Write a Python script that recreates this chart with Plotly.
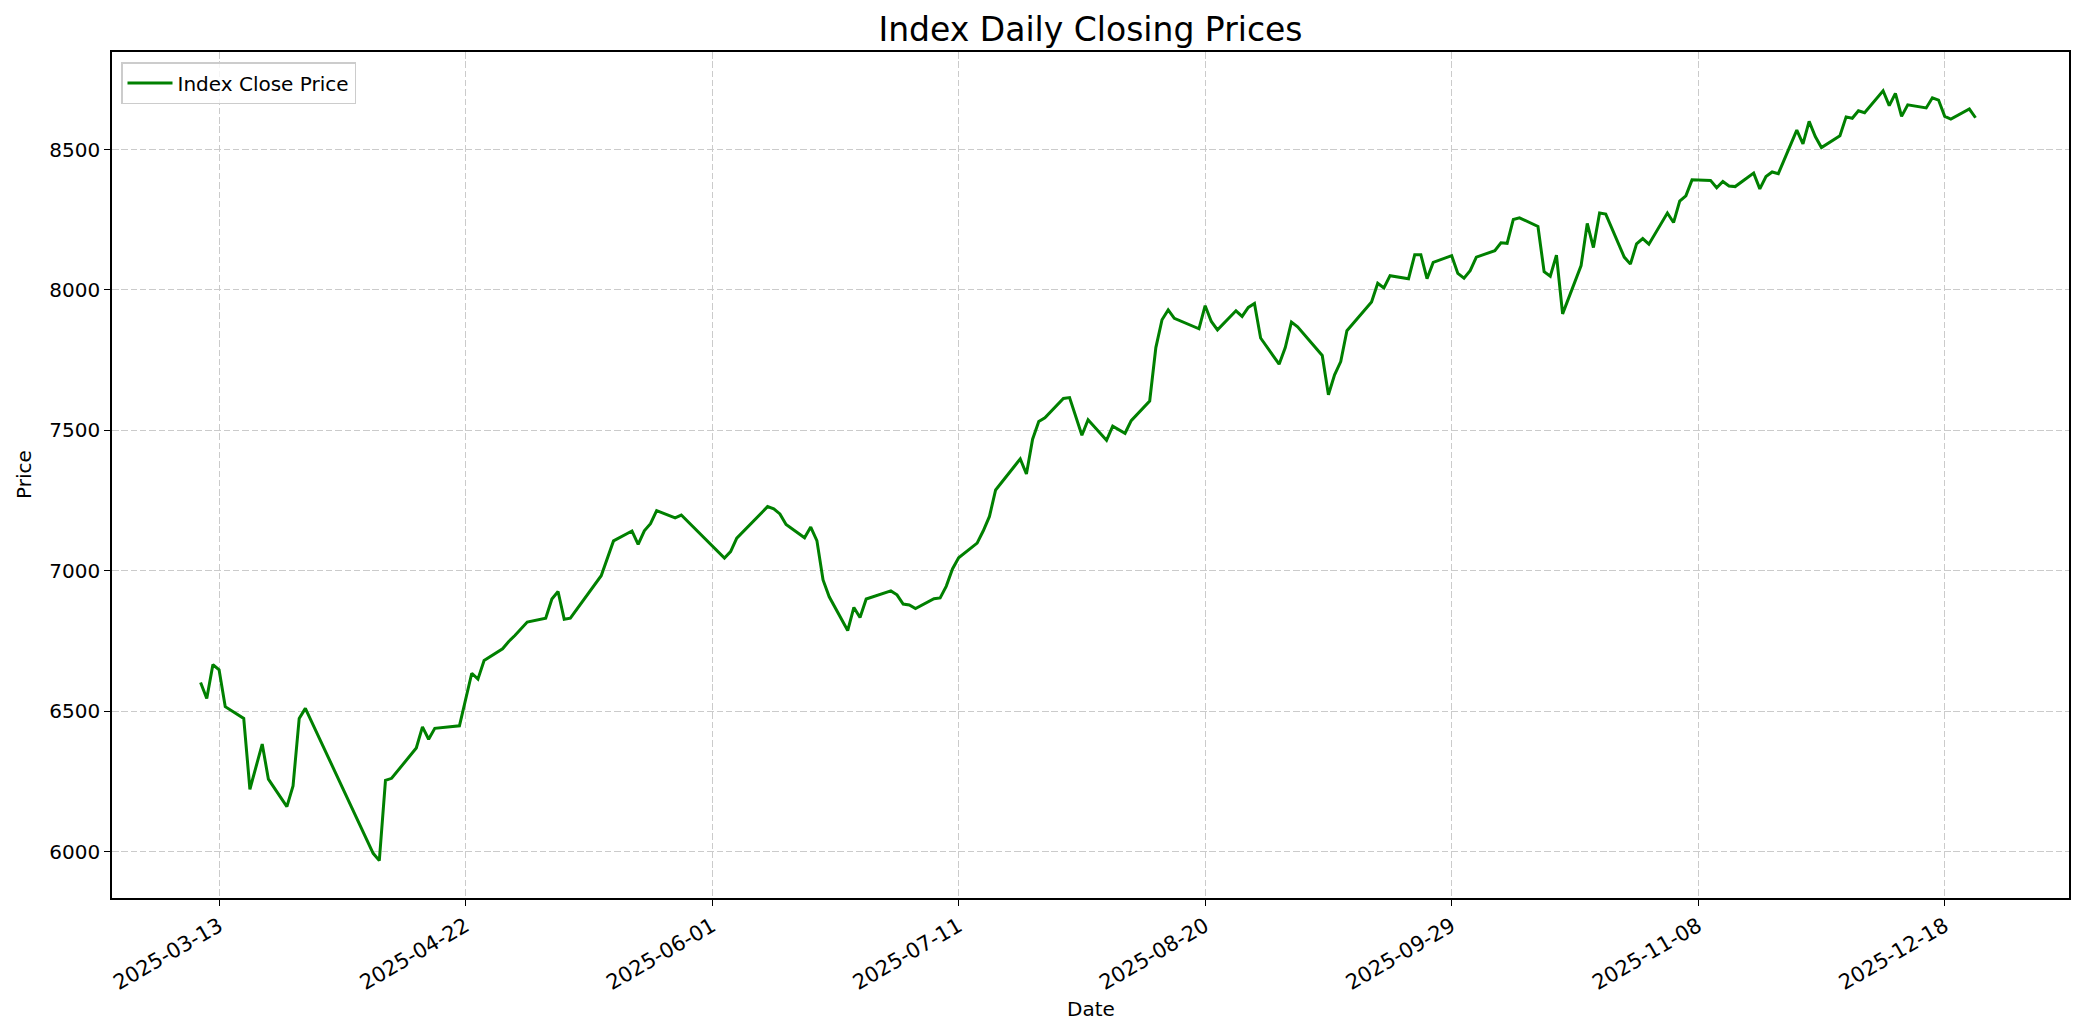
import plotly.graph_objects as go

# ---- data ----
dates = [
    "2025-03-10", "2025-03-11", "2025-03-12", "2025-03-13", "2025-03-14",
    "2025-03-17", "2025-03-18", "2025-03-20", "2025-03-21",
    "2025-03-24", "2025-03-25", "2025-03-26", "2025-03-27",
    "2025-04-07", "2025-04-08", "2025-04-09", "2025-04-10",
    "2025-04-14", "2025-04-15", "2025-04-16", "2025-04-17",
    "2025-04-21", "2025-04-23", "2025-04-24", "2025-04-25",
    "2025-04-28", "2025-04-29", "2025-04-30", "2025-05-02",
    "2025-05-05", "2025-05-06", "2025-05-07", "2025-05-08", "2025-05-09",
    "2025-05-14", "2025-05-16",
    "2025-05-19", "2025-05-20", "2025-05-21", "2025-05-22", "2025-05-23",
    "2025-05-26", "2025-05-27",
    "2025-06-03", "2025-06-04", "2025-06-05",
    "2025-06-10", "2025-06-11", "2025-06-12", "2025-06-13",
    "2025-06-16", "2025-06-17", "2025-06-18", "2025-06-19", "2025-06-20",
    "2025-06-23", "2025-06-24", "2025-06-25", "2025-06-26",
    "2025-06-30", "2025-07-01", "2025-07-02", "2025-07-03", "2025-07-04",
    "2025-07-07", "2025-07-08", "2025-07-09", "2025-07-10", "2025-07-11",
    "2025-07-14", "2025-07-15", "2025-07-16", "2025-07-17", "2025-07-18",
    "2025-07-21", "2025-07-22", "2025-07-23", "2025-07-24", "2025-07-25",
    "2025-07-28", "2025-07-29", "2025-07-31", "2025-08-01",
    "2025-08-04", "2025-08-05", "2025-08-07", "2025-08-08",
    "2025-08-11", "2025-08-12", "2025-08-13", "2025-08-14", "2025-08-15",
    "2025-08-19", "2025-08-20", "2025-08-21", "2025-08-22",
    "2025-08-25", "2025-08-26", "2025-08-27", "2025-08-28", "2025-08-29",
    "2025-09-01", "2025-09-02", "2025-09-03", "2025-09-04",
    "2025-09-08", "2025-09-09", "2025-09-10", "2025-09-11", "2025-09-12",
    "2025-09-15", "2025-09-16", "2025-09-17", "2025-09-18", "2025-09-19",
    "2025-09-22", "2025-09-23", "2025-09-24", "2025-09-25", "2025-09-26",
    "2025-09-29", "2025-09-30", "2025-10-01", "2025-10-02", "2025-10-03",
    "2025-10-06", "2025-10-07", "2025-10-08", "2025-10-09", "2025-10-10",
    "2025-10-13", "2025-10-14", "2025-10-15", "2025-10-16", "2025-10-17",
    "2025-10-20", "2025-10-21", "2025-10-22", "2025-10-23", "2025-10-24",
    "2025-10-27", "2025-10-28", "2025-10-29", "2025-10-30", "2025-10-31",
    "2025-11-03", "2025-11-04", "2025-11-05", "2025-11-06", "2025-11-07",
    "2025-11-10", "2025-11-11", "2025-11-12", "2025-11-13", "2025-11-14",
    "2025-11-17", "2025-11-18", "2025-11-19", "2025-11-20", "2025-11-21",
    "2025-11-24", "2025-11-25", "2025-11-26", "2025-11-27", "2025-11-28",
    "2025-12-01", "2025-12-02", "2025-12-03", "2025-12-04", "2025-12-05",
    "2025-12-08", "2025-12-09", "2025-12-10", "2025-12-11", "2025-12-12",
    "2025-12-15", "2025-12-16", "2025-12-17", "2025-12-18", "2025-12-19",
    "2025-12-22", "2025-12-23",
]

close_prices = [
    6603, 6546, 6667, 6648, 6517,
    6475, 6223, 6384, 6259,
    6161, 6235, 6475, 6511,
    5995, 5969, 6255, 6262,
    6370, 6445, 6401, 6440,
    6449, 6636, 6615, 6681,
    6723, 6749, 6770, 6818,
    6832, 6900, 6927, 6828, 6832,
    6983, 7107,
    7142, 7095, 7143, 7168, 7215,
    7189, 7199,
    7046, 7069, 7117,
    7229, 7221, 7203, 7165,
    7118, 7156, 7108, 6968, 6908,
    6788, 6870, 6834, 6900,
    6929, 6915, 6882, 6879, 6866,
    6901, 6904, 6946, 7007, 7047,
    7099, 7143, 7194, 7288, 7315,
    7399, 7345, 7469, 7532, 7545,
    7614, 7617, 7483, 7538,
    7465, 7515, 7490, 7535,
    7605, 7795, 7894, 7929, 7899,
    7862, 7944, 7888, 7858,
    7926, 7906, 7938, 7952, 7829,
    7736, 7795, 7886, 7869,
    7767, 7627, 7698, 7745, 7855,
    7930, 7957, 8024, 8007, 8051,
    8040, 8125, 8125, 8040, 8098,
    8122, 8059, 8042, 8069, 8117,
    8140, 8168, 8166, 8251, 8257,
    8226, 8065, 8049, 8124, 7915,
    8087, 8237, 8151, 8274, 8270,
    8117, 8092, 8164, 8183, 8163,
    8274, 8240, 8316, 8335, 8392,
    8390, 8364, 8386, 8370, 8368,
    8416, 8360, 8404, 8420, 8414,
    8569, 8520, 8600, 8546, 8507,
    8549, 8616, 8611, 8638, 8631,
    8709, 8656, 8700, 8618, 8659,
    8648, 8684, 8676, 8618, 8608,
    8644, 8613,
]

x_tick_dates = [
    "2025-03-13", "2025-04-22", "2025-06-01", "2025-07-11",
    "2025-08-20", "2025-09-29", "2025-11-08", "2025-12-18",
]
x_tick_labels = list(x_tick_dates)

y_tick_values = [6000, 6500, 7000, 7500, 8000, 8500]
y_tick_labels = [str(v) for v in y_tick_values]

series_name = "Index Close Price"
title_text = "Index Daily Closing Prices"
x_title = "Date"
y_title = "Price"

# ---- figure ----
# The page body has an 8px default margin, so the figure is drawn
# 8px in from the window's top-left corner.
OFF = 8
WIN_W, WIN_H = 2084, 1035
W, H = WIN_W - 2 * OFF, WIN_H - 2 * OFF
# target plot area in window pixels
PL, PR, PT, PB = 112, 2069, 52, 898
ML, MT = PL - OFF, PT - OFF
MR = W - (PR - OFF)
MB = H - (PB - OFF)
plot_w = PR - PL
plot_h = PB - PT

FONT = "DejaVu Sans"

fig = go.Figure()
fig.add_trace(go.Scatter(
    x=dates, y=close_prices, mode="lines", name=series_name,
    line=dict(color="#008000", width=3),
))

axis_common = dict(
    showline=True, linecolor="#000000", linewidth=1.5, mirror=True,
    ticks="outside", ticklen=6, tickwidth=1.4, tickcolor="#000000",
    showgrid=True, gridcolor="#cbcbcb", gridwidth=1.4, griddash="6.5px,2.8px",
    zeroline=False,
)

fig.update_xaxes(
    type="date",
    range=["2025-02-23 15:00", "2026-01-07 04:00"],
    tickvals=x_tick_dates, ticktext=x_tick_labels,
    tickangle=-30,
    tickfont=dict(family=FONT, size=21, color="#000000"),
    **axis_common,
)
fig.update_yaxes(
    range=[5836, 8847],
    tickvals=y_tick_values, ticktext=y_tick_labels,
    tickfont=dict(family=FONT, size=20, color="#000000"),
    **axis_common,
)

fig.update_layout(
    width=W, height=H,
    margin=dict(l=ML, r=MR, t=MT, b=MB, autoexpand=False),
    paper_bgcolor="white", plot_bgcolor="white",
    title=dict(
        text=title_text, x=0.5, xref="paper", xanchor="center",
        y=1 - (29 - OFF) / H, yref="container", yanchor="middle",
        font=dict(family=FONT, size=33, color="#000000"),
    ),
    showlegend=True,
    legend=dict(
        x=9 / plot_w, y=1 - 10 / plot_h, xanchor="left", yanchor="top",
        bgcolor="rgba(255,255,255,0.8)", bordercolor="#cccccc", borderwidth=1.5,
        font=dict(family=FONT, size=20, color="#000000"),
        itemwidth=45,
    ),
    annotations=[
        dict(text=x_title, xref="paper", yref="paper", x=0.5,
             y=-(1009 - PB) / plot_h, xanchor="center", yanchor="middle",
             showarrow=False, font=dict(family=FONT, size=20, color="#000000")),
        dict(text=y_title, xref="paper", yref="paper", x=-(PL - 24) / plot_w,
             y=0.5, xanchor="center", yanchor="middle", textangle=-90,
             showarrow=False, font=dict(family=FONT, size=20, color="#000000")),
    ],
)

fig.write_html("out.html")
